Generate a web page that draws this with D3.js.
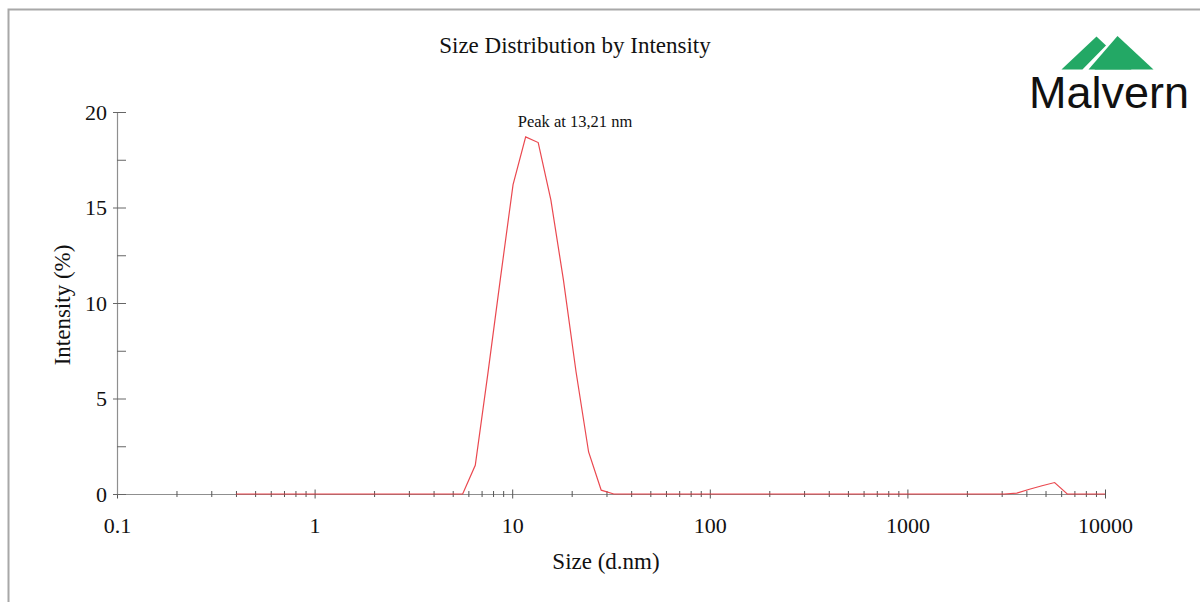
<!DOCTYPE html>
<html>
<head>
<meta charset="utf-8">
<script src="https://cdn.jsdelivr.net/npm/d3@7"></script>
<style>
  html, body { margin: 0; padding: 0; background: #fff; }
  svg { display: block; }
</style>
</head>
<body>
<svg id="chart" width="1200" height="602"></svg>
<script>
// ---- data ----
const title = "Size Distribution by Intensity";
const xLabel = "Size (d.nm)";
const yLabel = "Intensity (%)";
const peakLabel = "Peak at 13,21 nm";
const logoText = "Malvern";

const sizes = [0.4, 0.4632, 0.5365, 0.6213, 0.7195, 0.8332, 0.9649, 1.117, 1.294, 1.499,
  1.736, 2.010, 2.328, 2.696, 3.122, 3.615, 4.187, 4.849, 5.615, 6.503,
  7.531, 8.721, 10.10, 11.70, 13.54, 15.69, 18.17, 21.04, 24.36, 28.21,
  32.67, 37.84, 43.82, 50.75, 58.77, 68.06, 78.82, 91.28, 105.7, 122.4,
  141.8, 164.2, 190.1, 220.2, 255.0, 295.3, 342.0, 396.1, 458.7, 531.2,
  615.1, 712.4, 825.0, 955.4, 1106, 1281, 1484, 1718, 1990, 2305,
  2669, 3091, 3580, 4145, 4801, 5560, 6439, 7456, 8635, 10000];

const intensity = [0, 0, 0, 0, 0, 0, 0, 0, 0, 0,
  0, 0, 0, 0, 0, 0, 0, 0, 0, 1.5,
  6.3, 11.3, 16.2, 18.7, 18.4, 15.4, 11.2, 6.4, 2.2, 0.2,
  0, 0, 0, 0, 0, 0, 0, 0, 0, 0,
  0, 0, 0, 0, 0, 0, 0, 0, 0, 0,
  0, 0, 0, 0, 0, 0, 0, 0, 0, 0,
  0, 0, 0.05, 0.25, 0.43, 0.6, 0, 0, 0, 0];

const xDomain = [0.1, 10000];
const xMajorTicks = [0.1, 1, 10, 100, 1000, 10000];
const xTickLabels = ["0.1", "1", "10", "100", "1000", "10000"];
const xMinorMultipliers = [2, 3, 4, 5, 6, 7, 8, 9];
const yDomain = [0, 20];
const yMajorTicks = [0, 5, 10, 15, 20];
const yMinorTicks = [2.5, 7.5, 12.5, 17.5];

// ---- layout ----
const svg = d3.select("#chart");
const pLeft = 117, pRight = 1105, pTop = 112, pBottom = 494;
const serif = "'Liberation Serif', 'Times New Roman', serif";

const x = d3.scaleLog().domain(xDomain).range([pLeft, pRight]);
const y = d3.scaleLinear().domain(yDomain).range([pBottom, pTop]);

// frame
svg.append("rect")
  .attr("x", 8.5).attr("y", 9.5)
  .attr("width", 1300).attr("height", 700)
  .attr("fill", "none").attr("stroke", "#a8a8a8").attr("stroke-width", 2);

// title
svg.append("text")
  .attr("x", 575).attr("y", 53)
  .attr("text-anchor", "middle")
  .attr("font-family", serif).attr("font-size", 23)
  .attr("fill", "#111")
  .text(title);

// logo
const logo = svg.append("g");
const green = "#23a865";
const tri = (pts) => "M" + pts.map(p => p.join(",")).join("L") + "Z";
logo.append("path").attr("d", tri([[1061.5, 69.5], [1096.5, 36.5], [1131.5, 69.5]])).attr("fill", green);
logo.append("path").attr("d", tri([[1084.5, 69.5], [1117.5, 36], [1120, 40], [1088.5, 74]]))
  .attr("fill", "#fff").attr("stroke", "#fff").attr("stroke-width", 3);
logo.append("path").attr("d", tri([[1088.5, 69.5], [1117.5, 36], [1153.5, 69.5]])).attr("fill", green);
logo.append("text")
  .attr("x", 1109).attr("y", 108)
  .attr("text-anchor", "middle")
  .attr("font-family", "'Liberation Sans', Arial, sans-serif")
  .attr("font-size", 45)
  .attr("fill", "#111")
  .text(logoText);

// x axis
const xMinor = [];
xMajorTicks.slice(0, -1).forEach(m => xMinorMultipliers.forEach(k => xMinor.push(m * k)));

const xAxisG = svg.append("g").attr("transform", `translate(0,${pBottom})`);
xAxisG.call(d3.axisBottom(x).tickValues(xMajorTicks)
  .tickFormat((d, i) => xTickLabels[i]).tickSizeOuter(0).tickSizeInner(4));
xAxisG.select(".domain").attr("stroke", "#8f8f8f").attr("stroke-width", 1.2);
xAxisG.selectAll(".tick line").attr("y1", -4.5).attr("y2", 4.5).attr("stroke", "#555");
xAxisG.selectAll(".tick text")
  .attr("y", 39).attr("dy", 0)
  .attr("font-family", serif).attr("font-size", 22).attr("fill", "#111");

const xMinorG = svg.append("g").attr("transform", `translate(0,${pBottom})`);
xMinorG.call(d3.axisBottom(x).tickValues(xMinor).tickFormat("").tickSizeOuter(0).tickSizeInner(3));
xMinorG.select(".domain").remove();
xMinorG.selectAll(".tick line").attr("y1", -3).attr("y2", 3).attr("stroke", "#555");

// y axis
const yAxisG = svg.append("g").attr("transform", `translate(${pLeft},0)`);
yAxisG.call(d3.axisLeft(y).tickValues(yMajorTicks).tickSizeOuter(0).tickSizeInner(4));
yAxisG.select(".domain").attr("stroke", "#8f8f8f").attr("stroke-width", 1.2);
yAxisG.selectAll(".tick line").attr("x1", -4).attr("x2", 9).attr("stroke", "#666");
yAxisG.selectAll(".tick text")
  .attr("x", -10)
  .attr("font-family", serif).attr("font-size", 22).attr("fill", "#111");

const yMinorG = svg.append("g").attr("transform", `translate(${pLeft},0)`);
yMinorG.call(d3.axisRight(y).tickValues(yMinorTicks).tickFormat("").tickSizeOuter(0).tickSizeInner(9));
yMinorG.select(".domain").remove();
yMinorG.selectAll(".tick line").attr("stroke", "#666");

// axis labels
svg.append("text")
  .attr("x", 606).attr("y", 569)
  .attr("text-anchor", "middle")
  .attr("font-family", serif).attr("font-size", 23).attr("fill", "#111")
  .text(xLabel);

svg.append("text")
  .attr("transform", "translate(70,305) rotate(-90)")
  .attr("text-anchor", "middle")
  .attr("font-family", serif).attr("font-size", 23).attr("fill", "#111")
  .text(yLabel);

// data line
const line = d3.line().x((d, i) => x(sizes[i])).y(d => y(d));
svg.append("path")
  .datum(intensity)
  .attr("d", line)
  .attr("fill", "none")
  .attr("stroke", "#e8343c")
  .attr("stroke-width", 1.2)
  .attr("stroke-opacity", 0.9);

// peak label
svg.append("text")
  .attr("x", 575).attr("y", 127)
  .attr("text-anchor", "middle")
  .attr("font-family", serif).attr("font-size", 16.5).attr("fill", "#111")
  .text(peakLabel);
</script>
</body>
</html>
